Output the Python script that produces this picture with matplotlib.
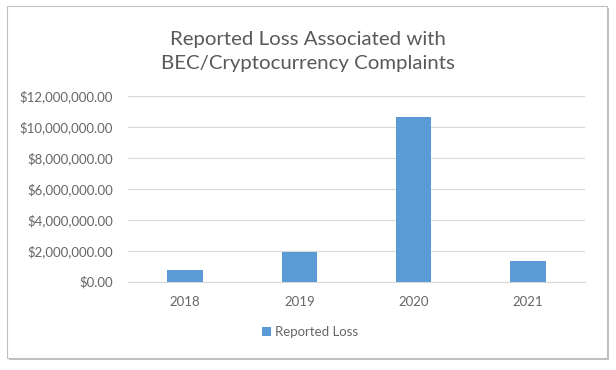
import matplotlib
matplotlib.use("Agg")
import matplotlib.pyplot as plt
from matplotlib.patches import Rectangle
from matplotlib.ticker import FuncFormatter

years = ["2018", "2019", "2020", "2021"]
reported_loss = [760000, 1950000, 10640000, 1340000]
y_ticks = [0, 2000000, 4000000, 6000000, 8000000, 10000000, 12000000]

plt.rcParams['font.family'] = ['Lato', 'DejaVu Sans']

fig = plt.figure(figsize=(6.16, 3.70), dpi=100)
fig.patch.set_facecolor('white')

# chart frame with shadow
shadow = Rectangle((9/616, (370-360)/370), 600/616, 352/370, transform=fig.transFigure,
                   facecolor='#9a9a9a', edgecolor='none', zorder=0, alpha=0.6)
frame = Rectangle((7/616, (370-357.5)/370), 600/616, 352/370, transform=fig.transFigure,
                  facecolor='white', edgecolor='#bfbfbf', linewidth=0.8, zorder=1)
fig.patches.extend([shadow, frame])

ax = fig.add_axes([128/616, 88.3/370, 457/616, 185.7/370])
ax.set_facecolor('none')
ax.set_zorder(2)

x = list(range(len(years)))
ax.bar(x, reported_loss, width=0.31, color='#5B9BD5', label='Reported Loss', zorder=3)
ax.set_xlim(-0.5, 3.5)
ax.set_ylim(0, 12000000)
ax.set_yticks(y_ticks)
ax.yaxis.set_major_formatter(FuncFormatter(lambda v, p: "${:,.2f}".format(v)))
ax.set_xticks(x)
ax.set_xticklabels(years)
ax.grid(axis='y', color='#d9d9d9', linewidth=0.8, zorder=0)
for s in ['top', 'right', 'left']:
    ax.spines[s].set_visible(False)
ax.spines['bottom'].set_color('#d9d9d9')
ax.spines['bottom'].set_linewidth(0.8)
ax.tick_params(axis='both', length=0, colors='#666666', labelsize=9.5)
ax.tick_params(axis='y', pad=11)
ax.tick_params(axis='x', pad=10)

fig.text(0.5, (370-51.5)/370, "Reported Loss Associated with\nBEC/Cryptocurrency Complaints",
         ha='center', va='center', fontsize=14.7, color='#595959', linespacing=1.55)

leg = fig.legend(loc='center', bbox_to_anchor=(310/616, (370-332)/370), frameon=False,
                 fontsize=9.5, handlelength=0.7, handleheight=0.7, handletextpad=0.3)
for t in leg.get_texts():
    t.set_color('#666666')

fig.savefig("out.png", dpi=100)
